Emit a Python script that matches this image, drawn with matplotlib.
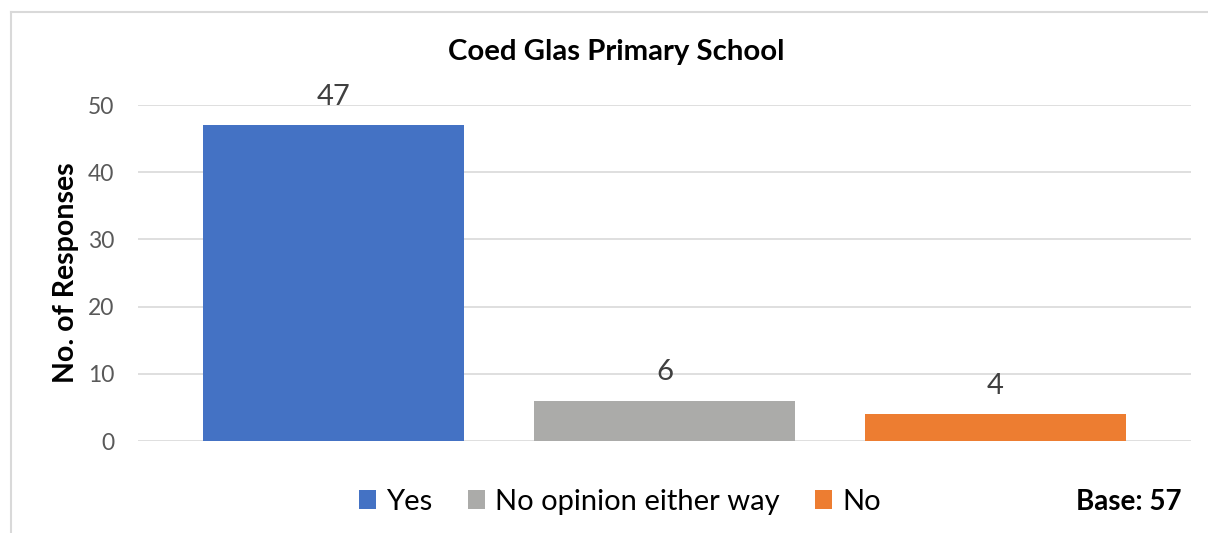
import matplotlib
matplotlib.use("Agg")
import matplotlib.pyplot as plt
from matplotlib.patches import Patch
from matplotlib.lines import Line2D

categories = ["Yes", "No opinion either way", "No"]
values = [47, 6, 4]
colors = ["#4472C4", "#ABABA9", "#ED7D31"]
yticks = [0, 10, 20, 30, 40, 50]
title = "Coed Glas Primary School"
ylabel = "No. of Responses"
base_text = "Base: 57"

plt.rcParams['font.family'] = ['Lato', 'DejaVu Sans']

W, H = 1208, 533
fig = plt.figure(figsize=(W / 100, H / 100), dpi=100)

# outer chart border (top and left visible)
fig.add_artist(Line2D([11 / W, 11 / W], [0, 1 - 12 / H], color="#D9D9D9", lw=1.5))
fig.add_artist(Line2D([11 / W, 1], [1 - 12 / H, 1 - 12 / H], color="#D9D9D9", lw=1.5))

ax = fig.add_axes([138 / W, 92 / H, (1191 - 138) / W, (441 - 105) / H])
x = list(range(len(categories)))
ax.bar(x, values, width=0.789, color=colors, zorder=3)
ax.set_xlim(-0.5906, 2.5906)
ax.set_ylim(0, 50)
ax.set_yticks(yticks)
ax.set_yticklabels([str(t) for t in yticks], fontsize=16.5, color="#595959")
ax.set_xticks([])
ax.tick_params(axis='y', length=0, pad=17)
ax.grid(axis='y', color="#D9D9D9", lw=1.2, zorder=0)
for s in ax.spines.values():
    s.set_visible(False)
ax.set_axisbelow(True)

for xi, v in zip(x, values):
    ax.annotate(str(v), (xi, v), xytext=(0, 11), textcoords="offset points",
                ha="center", va="bottom", fontsize=21, color="#404040")

fig.text(616 / W, 1 - 52 / H, title, ha="center", va="center",
         fontsize=21.2, fontweight="bold", color="#000000")
fig.text(66 / W, 1 - 273 / H, ylabel, ha="center", va="center", rotation=90,
         fontsize=20.5, fontweight="bold", color="#000000")

handles = [Patch(facecolor=c, edgecolor="none") for c in colors]
leg = fig.legend(handles, categories, loc="center", bbox_to_anchor=(620 / W, 1 - 502 / H),
                 ncol=3, frameon=False, fontsize=21, handlelength=0.6, handleheight=0.6,
                 handletextpad=0.35, columnspacing=1.2)
fig.text(1182 / W, 1 - 502 / H, base_text, ha="right", va="center",
         fontsize=20, fontweight="bold", color="#000000")

fig.savefig("out.png", dpi=100)
